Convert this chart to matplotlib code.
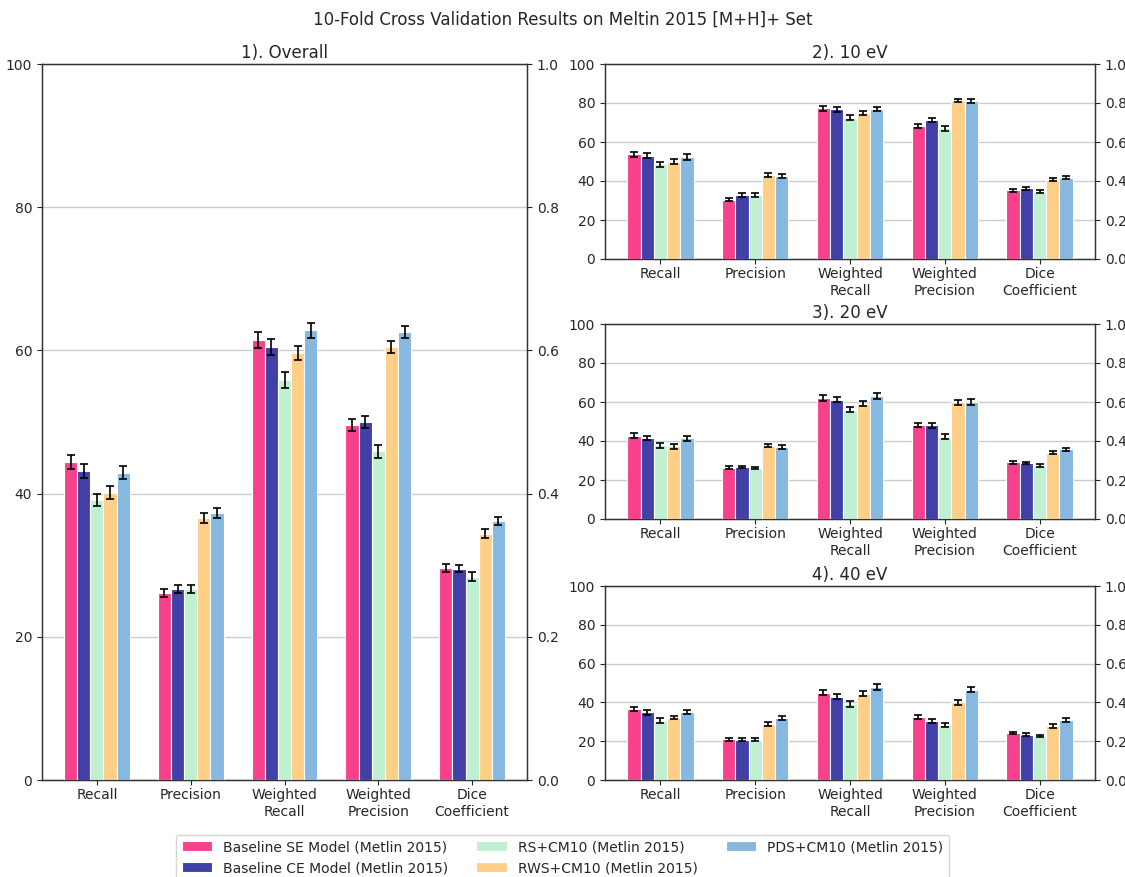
import matplotlib
matplotlib.use("Agg")
import matplotlib.pyplot as plt
import numpy as np

categories = ["Recall", "Precision", "Weighted\nRecall", "Weighted\nPrecision", "Dice\nCoefficient"]
series = ["Baseline SE Model (Metlin 2015)", "Baseline CE Model (Metlin 2015)",
          "RS+CM10 (Metlin 2015)", "RWS+CM10 (Metlin 2015)", "PDS+CM10 (Metlin 2015)"]
colors = ["#F7418C", "#4040A6", "#BFF0D2", "#FFCF88", "#86B8E0"]
panel_titles = ["1). Overall", "2). 10 eV", "3). 20 eV", "4). 40 eV"]

# values per series (rows) x category (columns)
overall_vals = [[44.4, 26.1, 61.5, 49.6, 29.6],
                [43.2, 26.7, 60.5, 50.0, 29.5],
                [39.1, 26.7, 55.9, 45.9, 28.4],
                [40.1, 36.6, 59.6, 60.5, 34.4],
                [42.9, 37.3, 62.8, 62.6, 36.2]]
overall_err = [[1.0, 0.6, 1.1, 0.8, 0.5],
               [1.0, 0.6, 1.1, 0.8, 0.5],
               [0.9, 0.6, 1.1, 0.9, 0.6],
               [0.9, 0.7, 1.0, 0.8, 0.6],
               [0.9, 0.7, 1.0, 0.8, 0.6]]

ev10_vals = [[53.8, 30.4, 77.3, 68.3, 35.2],
             [53.0, 32.8, 76.9, 71.2, 36.2],
             [48.6, 32.8, 72.4, 67.0, 34.6],
             [50.0, 43.1, 74.8, 81.1, 40.6],
             [52.4, 42.4, 77.0, 81.0, 41.7]]
ev10_err = [[1.3, 0.8, 1.3, 1.1, 0.9],
            [1.3, 0.8, 1.3, 1.0, 0.8],
            [1.3, 0.8, 1.3, 1.3, 0.9],
            [1.2, 0.8, 1.2, 0.8, 0.8],
            [1.4, 1.0, 1.1, 1.0, 0.8]]

ev20_vals = [[42.8, 26.2, 62.0, 48.2, 29.1],
             [41.5, 26.7, 61.1, 48.1, 28.7],
             [37.8, 26.1, 56.0, 42.3, 27.4],
             [37.3, 37.5, 59.1, 59.9, 34.1],
             [41.3, 37.0, 63.1, 59.9, 35.8]]
ev20_err = [[1.2, 0.8, 1.5, 1.2, 0.7],
            [1.2, 0.7, 1.3, 1.2, 0.7],
            [1.4, 0.7, 1.3, 1.3, 0.8],
            [1.2, 0.8, 1.3, 1.3, 0.7],
            [1.2, 0.9, 1.6, 1.4, 0.7]]

ev40_vals = [[36.7, 21.0, 45.1, 32.3, 24.3],
             [34.9, 20.7, 42.9, 30.5, 23.4],
             [30.6, 20.7, 39.0, 28.4, 22.7],
             [32.2, 28.9, 44.5, 40.0, 27.9],
             [34.9, 31.9, 48.0, 46.5, 30.9]]
ev40_err = [[0.9, 0.8, 1.5, 1.0, 0.7],
            [1.2, 0.8, 1.3, 1.0, 0.6],
            [1.3, 0.8, 1.6, 1.0, 0.6],
            [1.0, 0.9, 1.3, 1.3, 0.9],
            [1.1, 0.9, 1.7, 1.2, 0.9]]

panel_vals = [overall_vals, ev10_vals, ev20_vals, ev40_vals]
panel_errs = [overall_err, ev10_err, ev20_err, ev40_err]

text_color = "#262626"
plt.rcParams.update({
    "font.family": "DejaVu Sans",
    "text.color": text_color,
    "axes.labelcolor": text_color,
    "xtick.color": text_color,
    "ytick.color": text_color,
    "xtick.labelsize": 10,
    "ytick.labelsize": 10,
    "xtick.major.pad": 2.5,
})

W, H = 1125, 877
fig = plt.figure(figsize=(W / 100, H / 100), dpi=100)

def px_axes(left, right, top, bottom):
    return fig.add_axes([left / W, 1 - bottom / H, (right - left) / W, (bottom - top) / H])

axes = [
    px_axes(42, 527, 64, 780),
    px_axes(605, 1095, 64, 259),
    px_axes(605, 1095, 324, 519),
    px_axes(605, 1095, 586, 780),
]

x = np.arange(len(categories))
width = 0.14
handles = []
for ax, title, vals, errs in zip(axes, panel_titles, panel_vals, panel_errs):
    for i, (name, col) in enumerate(zip(series, colors)):
        b = ax.bar(x + (i - 2) * width, vals[i], width, yerr=errs[i], color=col,
                   edgecolor="white", linewidth=0.8, label=name,
                   error_kw=dict(ecolor="black", elinewidth=1.2, capsize=3, capthick=1.2), zorder=3)
        if ax is axes[0]:
            handles.append(b)
    ax.set_ylim(0, 100)
    ax.set_yticks(np.arange(0, 101, 20))
    ax.set_xticks(x)
    ax.set_xticklabels(categories)
    ax.set_title(title, fontsize=12, color=text_color, pad=4)
    ax.yaxis.grid(True, color="#cccccc", linewidth=1, zorder=0)
    ax.set_axisbelow(True)
    for s in ax.spines.values():
        s.set_color("#333333")
        s.set_linewidth(1)
    ax2 = ax.twinx()
    ax2.set_ylim(0, 1)
    ax2.set_yticks(np.arange(0, 1.01, 0.2))
    ax2.set_yticklabels(["%.1f" % v for v in np.arange(0, 1.01, 0.2)])
    for s in ax2.spines.values():
        s.set_color("#333333")

fig.suptitle("10-Fold Cross Validation Results on Meltin 2015 [M+H]+ Set",
             fontsize=12, y=0.988, color=text_color)

fig.legend(handles=handles, labels=series, loc="lower center", ncol=3,
           bbox_to_anchor=(0.5, -0.012), fontsize=10, frameon=True,
           edgecolor="#cccccc", handlelength=2.2, columnspacing=2.0)

fig.savefig("out.png", dpi=100)
